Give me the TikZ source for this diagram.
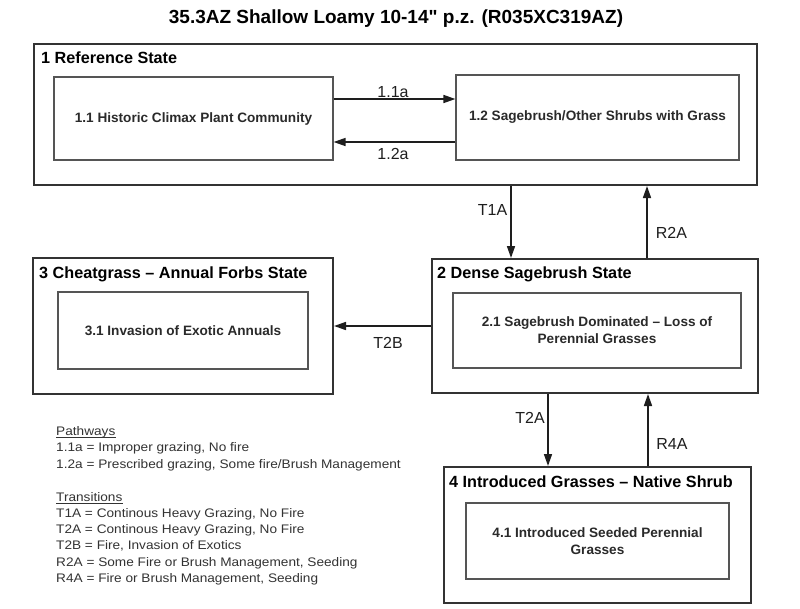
\documentclass[tikz,border=0pt]{standalone}
\usepackage{fontspec}
\setmainfont{Liberation Sans}
\newfontfamily\titlefont[Ligatures=TeXOff]{Liberation Sans}
\newfontfamily\legendfont[FakeStretch=1.1]{Liberation Sans}
\usetikzlibrary{arrows.meta,calc}
\definecolor{outerc}{HTML}{333333}
\definecolor{innerc}{HTML}{555555}
\definecolor{txtc}{HTML}{2A2A2A}
\definecolor{arrc}{HTML}{1E1E1E}
\definecolor{legc}{HTML}{333333}
\begin{document}
\begin{tikzpicture}[x=1pt,y=-1pt,
  outer/.style={draw=outerc,line width=2pt,rectangle,inner sep=0pt},
  inner/.style={draw=innerc,line width=1.2pt,rectangle,inner sep=0pt,align=center,
    font=\fontsize{13.6}{17}\selectfont\bfseries,text=txtc},
  statelabel/.style={anchor=base west,inner sep=0pt,font=\fontsize{16.2}{19}\selectfont\bfseries,text=black},
  arr/.style={line width=1.6pt,draw=arrc,-{Triangle[length=12pt,width=8pt]}},
  lbl/.style={anchor=base,inner sep=0pt,font=\fontsize{16}{19}\selectfont,text=arrc},
  leg/.style={anchor=base west,inner sep=0pt,font=\legendfont\fontsize{12.4}{15}\selectfont,text=legc},
  uline/.style={draw=legc,line width=0.8pt}]
\useasboundingbox (0,0) rectangle (800,608);
\fill[white] (0,0) rectangle (800,608);

% title
\node[anchor=base,inner sep=0pt,font=\titlefont\fontsize{19}{23}\selectfont\bfseries] (title) at (396,23.3)
  {35.3AZ Shallow Loamy 10-14" p.z. (R035XC319AZ)};

% state boxes
\node[outer,minimum width=723pt,minimum height=141pt] (s1) at (395.5,114.5) {};
\node[outer,minimum width=300pt,minimum height=136pt] (s3) at (183,326) {};
\node[outer,minimum width=326pt,minimum height=134pt] (s2) at (595,326) {};
\node[outer,minimum width=307pt,minimum height=136pt] (s4) at (597.5,535) {};

% state labels
\node[statelabel] (l1) at (41,63.8) {1 Reference State};
\node[statelabel] (l3) at (39,278.8) {3 Cheatgrass – Annual Forbs State};
\node[statelabel] (l2) at (437,278.8) {2 Dense Sagebrush State};
\node[statelabel] (l4) at (449,487.8) {4 Introduced Grasses – Native Shrub};

% community boxes
\node[inner,minimum width=279pt,minimum height=83pt] (b11) at (193.5,118.5) {1.1 Historic Climax Plant Community};
\node[inner,minimum width=283pt,minimum height=85pt] (b12) at (597.5,117.5) {1.2 Sagebrush/Other Shrubs with Grass};
\node[inner,minimum width=250pt,minimum height=77pt] (b31) at (183,330.5) {3.1 Invasion of Exotic Annuals};
\node[inner,minimum width=288pt,minimum height=75pt] (b21) at (597,330.5) {2.1 Sagebrush Dominated – Loss of\\Perennial Grasses};
\node[inner,minimum width=263pt,minimum height=76pt] (b41) at (597.5,541) {4.1 Introduced Seeded Perennial\\Grasses};

% connector guide coordinates
\coordinate (y11a) at (0,99);
\coordinate (y12a) at (0,142);
\coordinate (xT1A) at (511,0);
\coordinate (xR2A) at (647,0);
\coordinate (yT2B) at (0,326);
\coordinate (xT2A) at (548,0);
\coordinate (xR4A) at (648,0);

% connectors
\draw[arr] (b11.east |- y11a) -- (b12.west |- y11a);
\draw[arr] (b12.west |- y12a) -- (b11.east |- y12a);
\draw[arr] (s1.south -| xT1A) -- (s2.north -| xT1A);
\draw[arr] (s2.north -| xR2A) -- (s1.south -| xR2A);
\draw[arr] (s2.west |- yT2B) -- (s3.east |- yT2B);
\draw[arr] (s2.south -| xT2A) -- (s4.north -| xT2A);
\draw[arr] (s4.north -| xR4A) -- (s2.south -| xR4A);

% connector labels
\node[lbl] (t11a) at (393,97.5) {1.1a};
\node[lbl] (t12a) at (393,159) {1.2a};
\node[lbl] (tT1A) at (492.5,215.7) {T1A};
\node[lbl] (tR2A) at (671.5,238.7) {R2A};
\node[lbl] (tT2B) at (388,348.5) {T2B};
\node[lbl] (tT2A) at (530,423.7) {T2A};
\node[lbl] (tR4A) at (672,449.7) {R4A};

% legend
\node[leg] (pw) at (56,435.5) {Pathways};
\draw[uline] ([yshift=-2.2pt]pw.base west) -- ([yshift=-2.2pt]pw.base east);
\node[leg] (p1) at (56,451.8) {1.1a = Improper grazing, No fire};
\node[leg] (p2) at (56,468.1) {1.2a = Prescribed grazing, Some fire/Brush Management};
\node[leg] (tr) at (56,501) {Transitions};
\draw[uline] ([yshift=-2.2pt]tr.base west) -- ([yshift=-2.2pt]tr.base east);
\node[leg] (r1) at (56,517.3) {T1A = Continous Heavy Grazing, No Fire};
\node[leg] (r2) at (56,533.6) {T2A = Continous Heavy Grazing, No Fire};
\node[leg] (r3) at (56,549.9) {T2B = Fire, Invasion of Exotics};
\node[leg] (r4) at (56,566.2) {R2A = Some Fire or Brush Management, Seeding};
\node[leg] (r5) at (56,582.5) {R4A = Fire or Brush Management, Seeding};
\end{tikzpicture}
\end{document}
